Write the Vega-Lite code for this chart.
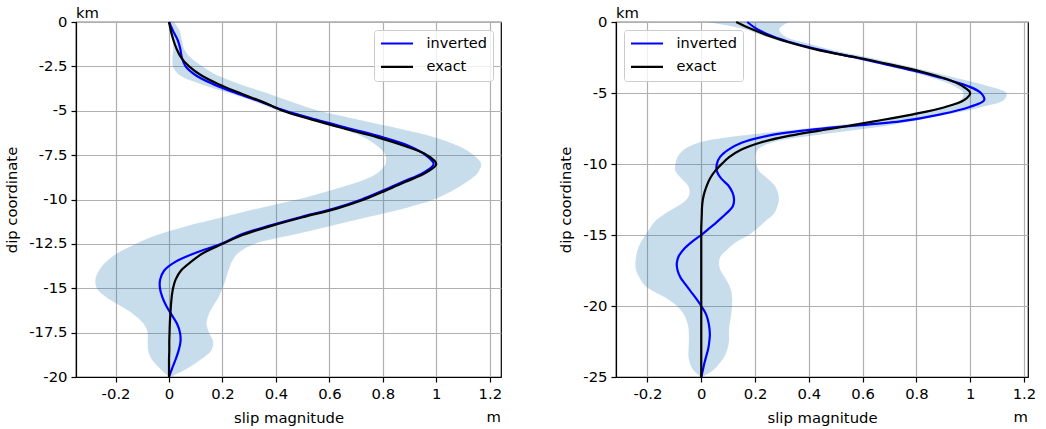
{
  "$schema": "https://vega.github.io/schema/vega-lite/v6.json",
  "padding": {"left": 4, "top": 5, "right": 5, "bottom": 5},
  "background": "white",
  "config": {
    "font": "DejaVu Sans",
    "view": {"stroke": "black", "strokeWidth": 1.2},
    "axis": {
      "domainColor": "black", "domainWidth": 1.2,
      "tickColor": "black", "tickWidth": 1.2, "tickSize": 5,
      "labelPadding": 4, "labelFontSize": 14.8, "labelFont": "DejaVu Sans", "labelColor": "black",
      "titleFont": "DejaVu Sans", "titleFontSize": 14.8, "titleFontWeight": "normal", "titleColor": "black",
      "gridColor": "#b0b0b0", "gridWidth": 1.2, "gridOpacity": 1,
      "labelFlush": false, "labelOverlap": false
    },
    "legend": {
      "title": null, "symbolType": "stroke", "symbolStrokeWidth": 2.2, "symbolSize": 1024,
      "labelFontSize": 14.5, "labelFont": "DejaVu Sans", "labelColor": "black",
      "fillColor": "rgba(255,255,255,0.8)", "strokeColor": "#cccccc", "cornerRadius": 3,
      "clipHeight": 16, "padding": 5.5, "rowPadding": 7.4, "labelOffset": 12, "offset": 8
    },
    "title": {"font": "DejaVu Sans", "fontSize": 14.8, "fontWeight": "normal", "color": "black", "anchor": "start", "frame": "group", "offset": -7}
  },
  "datasets": {
    "left": [
      {"d": 0, "exact": 0, "inverted": 0, "lo": 0, "hi": 0.018},
      {"d": -0.5, "exact": 0.007, "inverted": 0.015, "lo": 0.005, "hi": 0.04},
      {"d": -1, "exact": 0.016, "inverted": 0.032, "lo": 0.013, "hi": 0.048},
      {"d": -1.5, "exact": 0.028, "inverted": 0.042, "lo": 0.016, "hi": 0.056},
      {"d": -2, "exact": 0.045, "inverted": 0.048, "lo": 0.013, "hi": 0.08},
      {"d": -2.5, "exact": 0.075, "inverted": 0.062, "lo": 0.015, "hi": 0.125},
      {"d": -3, "exact": 0.12, "inverted": 0.1, "lo": 0.04, "hi": 0.18},
      {"d": -3.5, "exact": 0.185, "inverted": 0.165, "lo": 0.12, "hi": 0.265},
      {"d": -4, "exact": 0.265, "inverted": 0.25, "lo": 0.225, "hi": 0.365},
      {"d": -4.5, "exact": 0.35, "inverted": 0.345, "lo": 0.325, "hi": 0.46},
      {"d": -5, "exact": 0.425, "inverted": 0.435, "lo": 0.41, "hi": 0.56},
      {"d": -5.5, "exact": 0.535, "inverted": 0.55, "lo": 0.52, "hi": 0.71},
      {"d": -6, "exact": 0.655, "inverted": 0.675, "lo": 0.64, "hi": 0.86},
      {"d": -6.5, "exact": 0.78, "inverted": 0.8, "lo": 0.73, "hi": 0.995},
      {"d": -7, "exact": 0.885, "inverted": 0.9, "lo": 0.78, "hi": 1.085},
      {"d": -7.5, "exact": 0.965, "inverted": 0.96, "lo": 0.81, "hi": 1.14},
      {"d": -8, "exact": 1.0, "inverted": 0.99, "lo": 0.81, "hi": 1.168},
      {"d": -8.5, "exact": 0.96, "inverted": 0.95, "lo": 0.78, "hi": 1.155},
      {"d": -9, "exact": 0.885, "inverted": 0.875, "lo": 0.71, "hi": 1.115},
      {"d": -9.5, "exact": 0.81, "inverted": 0.8, "lo": 0.6, "hi": 1.06},
      {"d": -10, "exact": 0.73, "inverted": 0.72, "lo": 0.48, "hi": 0.99},
      {"d": -10.5, "exact": 0.63, "inverted": 0.62, "lo": 0.333, "hi": 0.88},
      {"d": -11, "exact": 0.5, "inverted": 0.49, "lo": 0.2, "hi": 0.74},
      {"d": -11.5, "exact": 0.38, "inverted": 0.37, "lo": 0.065, "hi": 0.6},
      {"d": -12, "exact": 0.275, "inverted": 0.265, "lo": -0.045, "hi": 0.46},
      {"d": -12.5, "exact": 0.2, "inverted": 0.195, "lo": -0.125, "hi": 0.32},
      {"d": -13, "exact": 0.13, "inverted": 0.1, "lo": -0.19, "hi": 0.26},
      {"d": -13.5, "exact": 0.083, "inverted": 0.025, "lo": -0.235, "hi": 0.235},
      {"d": -14, "exact": 0.045, "inverted": -0.018, "lo": -0.262, "hi": 0.222},
      {"d": -14.5, "exact": 0.025, "inverted": -0.033, "lo": -0.275, "hi": 0.212},
      {"d": -15, "exact": 0.015, "inverted": -0.034, "lo": -0.27, "hi": 0.2},
      {"d": -15.5, "exact": 0.01, "inverted": -0.025, "lo": -0.235, "hi": 0.185},
      {"d": -16, "exact": 0.007, "inverted": -0.01, "lo": -0.18, "hi": 0.165},
      {"d": -16.5, "exact": 0.005, "inverted": 0.01, "lo": -0.13, "hi": 0.148},
      {"d": -17, "exact": 0.003, "inverted": 0.03, "lo": -0.095, "hi": 0.14},
      {"d": -17.5, "exact": 0.002, "inverted": 0.041, "lo": -0.08, "hi": 0.15},
      {"d": -18, "exact": 0.001, "inverted": 0.043, "lo": -0.08, "hi": 0.165},
      {"d": -18.5, "exact": 0.001, "inverted": 0.036, "lo": -0.078, "hi": 0.158},
      {"d": -19, "exact": 0, "inverted": 0.025, "lo": -0.065, "hi": 0.12},
      {"d": -19.5, "exact": 0, "inverted": 0.012, "lo": -0.035, "hi": 0.07},
      {"d": -20, "exact": 0, "inverted": 0, "lo": 0, "hi": 0.004}
    ],
    "right": [
      {"d": 0, "exact": 0.13, "inverted": 0.171, "lo": 0.022, "hi": 0.326},
      {"d": -0.5, "exact": 0.187, "inverted": 0.208, "lo": 0.16, "hi": 0.29},
      {"d": -1, "exact": 0.255, "inverted": 0.265, "lo": 0.235, "hi": 0.31},
      {"d": -1.5, "exact": 0.338, "inverted": 0.345, "lo": 0.32, "hi": 0.395},
      {"d": -2, "exact": 0.44, "inverted": 0.45, "lo": 0.425, "hi": 0.495},
      {"d": -2.5, "exact": 0.58, "inverted": 0.573, "lo": 0.55, "hi": 0.625},
      {"d": -3, "exact": 0.705, "inverted": 0.69, "lo": 0.67, "hi": 0.74},
      {"d": -3.5, "exact": 0.82, "inverted": 0.805, "lo": 0.78, "hi": 0.855},
      {"d": -4, "exact": 0.91, "inverted": 0.905, "lo": 0.87, "hi": 0.96},
      {"d": -4.5, "exact": 0.97, "inverted": 0.99, "lo": 0.94, "hi": 1.065},
      {"d": -5, "exact": 1.0, "inverted": 1.04, "lo": 0.975, "hi": 1.135},
      {"d": -5.5, "exact": 0.977, "inverted": 1.052, "lo": 0.965, "hi": 1.125},
      {"d": -6, "exact": 0.905, "inverted": 0.995, "lo": 0.895, "hi": 1.04},
      {"d": -6.5, "exact": 0.788, "inverted": 0.89, "lo": 0.77, "hi": 0.915},
      {"d": -7, "exact": 0.643, "inverted": 0.74, "lo": 0.615, "hi": 0.78},
      {"d": -7.5, "exact": 0.49, "inverted": 0.45, "lo": 0.39, "hi": 0.615},
      {"d": -8, "exact": 0.33, "inverted": 0.25, "lo": 0.15, "hi": 0.415},
      {"d": -8.5, "exact": 0.218, "inverted": 0.15, "lo": -0.01, "hi": 0.26},
      {"d": -9, "exact": 0.148, "inverted": 0.1, "lo": -0.065, "hi": 0.21},
      {"d": -9.5, "exact": 0.105, "inverted": 0.07, "lo": -0.088, "hi": 0.2},
      {"d": -10, "exact": 0.076, "inverted": 0.058, "lo": -0.096, "hi": 0.205},
      {"d": -10.5, "exact": 0.051, "inverted": 0.058, "lo": -0.096, "hi": 0.215},
      {"d": -11, "exact": 0.033, "inverted": 0.073, "lo": -0.075, "hi": 0.245},
      {"d": -11.5, "exact": 0.021, "inverted": 0.1, "lo": -0.05, "hi": 0.272},
      {"d": -12, "exact": 0.012, "inverted": 0.116, "lo": -0.043, "hi": 0.285},
      {"d": -12.5, "exact": 0.006, "inverted": 0.122, "lo": -0.055, "hi": 0.289},
      {"d": -13, "exact": 0.003, "inverted": 0.117, "lo": -0.09, "hi": 0.283},
      {"d": -13.5, "exact": 0.002, "inverted": 0.092, "lo": -0.135, "hi": 0.27},
      {"d": -14, "exact": 0.001, "inverted": 0.063, "lo": -0.17, "hi": 0.24},
      {"d": -14.5, "exact": 0, "inverted": 0.032, "lo": -0.19, "hi": 0.21},
      {"d": -15, "exact": 0, "inverted": 0, "lo": -0.207, "hi": 0.177},
      {"d": -15.5, "exact": 0, "inverted": -0.036, "lo": -0.224, "hi": 0.13},
      {"d": -16, "exact": 0, "inverted": -0.065, "lo": -0.236, "hi": 0.098},
      {"d": -16.5, "exact": 0, "inverted": -0.084, "lo": -0.242, "hi": 0.072},
      {"d": -17, "exact": 0, "inverted": -0.091, "lo": -0.245, "hi": 0.066},
      {"d": -17.5, "exact": 0, "inverted": -0.088, "lo": -0.242, "hi": 0.072},
      {"d": -18, "exact": 0, "inverted": -0.077, "lo": -0.23, "hi": 0.088},
      {"d": -18.5, "exact": 0, "inverted": -0.058, "lo": -0.212, "hi": 0.103},
      {"d": -19, "exact": 0, "inverted": -0.038, "lo": -0.175, "hi": 0.112},
      {"d": -19.5, "exact": 0, "inverted": -0.018, "lo": -0.125, "hi": 0.115},
      {"d": -20, "exact": 0, "inverted": 0, "lo": -0.09, "hi": 0.114},
      {"d": -20.5, "exact": 0, "inverted": 0.016, "lo": -0.068, "hi": 0.112},
      {"d": -21, "exact": 0, "inverted": 0.025, "lo": -0.055, "hi": 0.108},
      {"d": -21.5, "exact": 0, "inverted": 0.03, "lo": -0.048, "hi": 0.104},
      {"d": -22, "exact": 0, "inverted": 0.032, "lo": -0.046, "hi": 0.103},
      {"d": -22.5, "exact": 0, "inverted": 0.03, "lo": -0.046, "hi": 0.103},
      {"d": -23, "exact": 0, "inverted": 0.026, "lo": -0.047, "hi": 0.098},
      {"d": -23.5, "exact": 0, "inverted": 0.019, "lo": -0.048, "hi": 0.088},
      {"d": -24, "exact": 0, "inverted": 0.012, "lo": -0.043, "hi": 0.07},
      {"d": -24.5, "exact": 0, "inverted": 0.006, "lo": -0.03, "hi": 0.045},
      {"d": -25, "exact": 0, "inverted": 0, "lo": 0, "hi": 0.004}
    ]
  },
  "hconcat": [
    {
      "width": 425, "height": 355,
      "title": {"text": "km"},
      "data": {"name": "left"},
      "layer": [
        {
          "mark": {"type": "area", "orient": "horizontal", "color": "#1f77b4", "opacity": 0.25, "interpolate": "catmull-rom"},
          "encoding": {
            "x": {"field": "lo", "type": "quantitative", "scale": {"domain": [-0.348, 1.242], "nice": false, "zero": false},
                  "axis": {"values": [-0.2, 0, 0.2, 0.4, 0.6, 0.8, 1, 1.2], "title": "slip magnitude", "titlePadding": 9.5, "labelExpr": "replace(format(datum.value, '~g'), '\u2212', '-')"}},
            "x2": {"field": "hi"},
            "y": {"field": "d", "type": "quantitative", "scale": {"domain": [-20, 0], "nice": false, "zero": false},
                  "axis": {"values": [0, -2.5, -5, -7.5, -10, -12.5, -15, -17.5, -20], "title": "dip coordinate", "titlePadding": 9, "labelExpr": "replace(format(datum.value, '~g'), '\u2212', '-')"}}
          }
        },
        {
          "transform": [{"fold": ["inverted", "exact"], "as": ["series", "slip"]}],
          "mark": {"type": "line", "strokeWidth": 2.2, "interpolate": "catmull-rom"},
          "encoding": {
            "x": {"field": "slip", "type": "quantitative"},
            "y": {"field": "d", "type": "quantitative"},
            "order": {"field": "d", "type": "quantitative"},
            "color": {"field": "series", "type": "nominal", "scale": {"domain": ["inverted", "exact"], "range": ["#0000ff", "#000000"]},
                      "legend": {"orient": "top-right"}}
          }
        },
        {
          "data": {"values": [{"unit": "m"}]},
          "mark": {"type": "text", "align": "right", "baseline": "alphabetic", "dy": 45, "fontSize": 14.8, "color": "black"},
          "encoding": {
            "x": {"datum": 1.242, "type": "quantitative"},
            "y": {"datum": -20, "type": "quantitative"},
            "text": {"field": "unit"}
          }
        }
      ]
    },
    {
      "width": 412, "height": 355,
      "title": {"text": "km"},
      "data": {"name": "right"},
      "layer": [
        {
          "mark": {"type": "area", "orient": "horizontal", "color": "#1f77b4", "opacity": 0.25, "interpolate": "catmull-rom"},
          "encoding": {
            "x": {"field": "lo", "type": "quantitative", "scale": {"domain": [-0.317, 1.215], "nice": false, "zero": false},
                  "axis": {"values": [-0.2, 0, 0.2, 0.4, 0.6, 0.8, 1, 1.2], "title": "slip magnitude", "titlePadding": 9.5, "labelExpr": "replace(format(datum.value, '~g'), '\u2212', '-')"}},
            "x2": {"field": "hi"},
            "y": {"field": "d", "type": "quantitative", "scale": {"domain": [-25, 0], "nice": false, "zero": false},
                  "axis": {"values": [0, -5, -10, -15, -20, -25], "title": "dip coordinate", "titlePadding": 9, "labelExpr": "replace(format(datum.value, '~g'), '\u2212', '-')"}}
          }
        },
        {
          "transform": [{"fold": ["inverted", "exact"], "as": ["series", "slip"]}],
          "mark": {"type": "line", "strokeWidth": 2.2, "interpolate": "catmull-rom"},
          "encoding": {
            "x": {"field": "slip", "type": "quantitative"},
            "y": {"field": "d", "type": "quantitative"},
            "order": {"field": "d", "type": "quantitative"},
            "color": {"field": "series", "type": "nominal", "scale": {"domain": ["inverted", "exact"], "range": ["#0000ff", "#000000"]},
                      "legend": {"orient": "top-left"}}
          }
        },
        {
          "data": {"values": [{"unit": "m"}]},
          "mark": {"type": "text", "align": "right", "baseline": "alphabetic", "dy": 45, "fontSize": 14.8, "color": "black"},
          "encoding": {
            "x": {"datum": 1.215, "type": "quantitative"},
            "y": {"datum": -25, "type": "quantitative"},
            "text": {"field": "unit"}
          }
        }
      ]
    }
  ],
  "spacing": 115,
  "bounds": "flush",
  "resolve": {"scale": {"x": "independent", "y": "independent", "color": "independent"}, "legend": {"color": "independent"}}
}
